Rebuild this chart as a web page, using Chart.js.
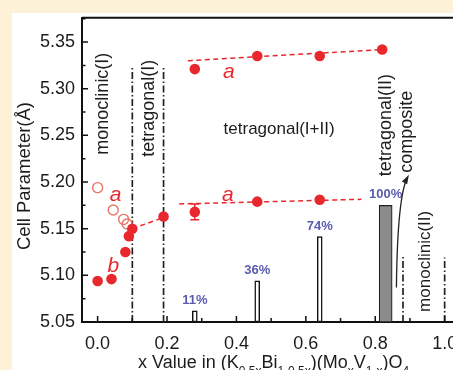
<!DOCTYPE html>
<html>
<head>
<meta charset="utf-8">
<script src="https://cdn.jsdelivr.net/npm/chart.js@4.4.1/dist/chart.umd.min.js"></script>
<style>
  html, body { margin: 0; padding: 0; overflow: hidden; width: 453px; height: 370px; background: #fdf1d8; }
  canvas { display: block; }
</style>
</head>
<body>
<canvas id="c" width="475" height="370" style="width:475px;height:370px"></canvas>
<script>
// ---- data ----
const xTickValues = [0.0, 0.2, 0.4, 0.6, 0.8, 1.0];
const yTickValues = [5.05, 5.10, 5.15, 5.20, 5.25, 5.30, 5.35];

// upper branch, lattice a (tetragonal II)
const upperX = [0.28, 0.46, 0.64, 0.82];
const upperA = [5.321, 5.335, 5.335, 5.342];
const upperFitX = [0.26, 0.82];
const upperFitY = [5.330, 5.342];

// lower branch, filled circles (a and b)
const lowerX = [0.00, 0.04, 0.08, 0.09, 0.10, 0.19, 0.28, 0.46, 0.64];
const lowerY = [5.094, 5.096, 5.125, 5.142, 5.150, 5.163, 5.168, 5.179, 5.181];
// open circles (monoclinic a)
const openX = [0.00, 0.045, 0.075, 0.085];
const openY = [5.194, 5.170, 5.160, 5.155];
// dashed guides on lower branch
const lowerSegX = [0.10, 0.19];
const lowerSegY = [5.150, 5.162];
const lowerFitX = [0.235, 0.76];
const lowerFitY = [5.1765, 5.1815];
// error bar
const errX = [0.28];
const errY = [5.168];
const errSize = [0.0085];

// phase boundaries (dash-dot)
const phaseX = [0.10, 0.19, 0.88, 1.00];
const phaseTop = [5.325, 5.325, 5.122, 5.119];

// phase fraction bars
const barX = [0.28, 0.46, 0.64];
const barTop = [5.062, 5.094, 5.1415];
const barLabels = ['11%', '36%', '74%'];
const fullBarX = [0.83];
const fullBarTop = [5.175];
const fullBarLabels = ['100%'];

const Y_MIN = 5.05, Y_MAX = 5.376, X_MIN = -0.045, X_MAX = 1.05;

// ---- styles ----
const RED = '#e8282c';
const OPEN_RED = '#ea7462';
const FONT = '"Liberation Sans", Arial, Helvetica, sans-serif';
const TXT = '#1c1c1c';

const pts = (xs, ys) => xs.map((x, i) => ({ x: x, y: ys[i] }));

const datasets = [];
// phase lines
phaseX.forEach((x, i) => {
  datasets.push({
    type: 'line', data: [{ x: x, y: Y_MIN }, { x: x, y: phaseTop[i] }],
    borderColor: '#222', borderWidth: 1.7, borderDash: [7, 2.5, 1.5, 2.5],
    pointRadius: 0, fill: false, order: 5
  });
});
// bars
datasets.push({
  type: 'bar', data: barX.map((x, i) => ({ x: x, y: [Y_MIN, barTop[i]] })),
  backgroundColor: '#ffffff', borderColor: '#111', borderWidth: 1.5,
  borderSkipped: false, barThickness: 5, grouped: false, order: 4
});
datasets.push({
  type: 'bar', data: fullBarX.map((x, i) => ({ x: x, y: [Y_MIN, fullBarTop[i]] })),
  backgroundColor: '#8b8b8b', borderColor: '#222', borderWidth: 1.2,
  borderSkipped: false, barThickness: 13, grouped: false, order: 4
});
// dashed guides
[[upperFitX, upperFitY], [lowerSegX, lowerSegY], [lowerFitX, lowerFitY]].forEach(p => {
  datasets.push({
    type: 'line', data: pts(p[0], p[1]), borderColor: RED, borderWidth: 1.5,
    borderDash: [5, 3.5], pointRadius: 0, fill: false, order: 3
  });
});
// open circles
datasets.push({
  type: 'scatter', data: pts(openX, openY), pointRadius: 5, pointBorderWidth: 1.4,
  pointBackgroundColor: 'rgba(255,255,255,0)', pointBorderColor: OPEN_RED, order: 2
});
// filled circles
datasets.push({
  type: 'scatter', data: pts(lowerX, lowerY), pointRadius: 5.3, pointBorderWidth: 0,
  pointBackgroundColor: RED, pointBorderColor: RED, order: 1
});
datasets.push({
  type: 'scatter', data: pts(upperX, upperA), pointRadius: 5.3, pointBorderWidth: 0,
  pointBackgroundColor: RED, pointBorderColor: RED, order: 1
});

// text annotations (data coordinates)
const notes = [
  { t: 'monoclinic(I)', x: 0.017, y: 5.284, rot: true, size: 18 },
  { t: 'tetragonal(I)', x: 0.147, y: 5.279, rot: true, size: 18 },
  { t: 'tetragonal(I+II)', x: 0.523, y: 5.256, rot: false, size: 17 },
  { t: 'tetragonal(II)', x: 0.830, y: 5.261, rot: true, size: 18 },
  { t: 'composite', x: 0.893, y: 5.254, rot: true, size: 18 },
  { t: 'monoclinic(II)', x: 0.945, y: 5.115, rot: true, size: 17 }
];
const redNotes = [
  { t: 'a', x: 0.052, y: 5.186 },
  { t: 'b', x: 0.045, y: 5.110 },
  { t: 'a', x: 0.375, y: 5.186 },
  { t: 'a', x: 0.378, y: 5.318 }
];

const decor = {
  id: 'decor',
  beforeDraw(chart) {
    const ctx = chart.ctx;
    ctx.save();
    ctx.fillStyle = '#fdf1d8';
    ctx.fillRect(0, 0, chart.width, chart.height);
    ctx.fillStyle = '#ffffff';
    ctx.fillRect(12, 13, chart.width - 12, chart.height - 13);
    ctx.restore();
  },
  afterDatasetsDraw(chart) {
    const ctx = chart.ctx, xs = chart.scales.x, ys = chart.scales.y;
    const ca = chart.chartArea;
    ctx.save();
    // error bar
    ctx.strokeStyle = RED; ctx.lineWidth = 1.5;
    errX.forEach((x, i) => {
      const px = xs.getPixelForValue(x);
      const y1 = ys.getPixelForValue(errY[i] + errSize[i]);
      const y2 = ys.getPixelForValue(errY[i] - errSize[i]);
      ctx.beginPath();
      ctx.moveTo(px, y1); ctx.lineTo(px, y2);
      ctx.moveTo(px - 4.5, y1); ctx.lineTo(px + 4.5, y1);
      ctx.moveTo(px - 4.5, y2); ctx.lineTo(px + 4.5, y2);
      ctx.stroke();
    });
    // bar labels
    ctx.fillStyle = '#5a5cb0';
    ctx.font = 'bold 13px ' + FONT;
    ctx.textAlign = 'center'; ctx.textBaseline = 'bottom';
    barX.forEach((x, i) => {
      ctx.fillText(barLabels[i], xs.getPixelForValue(x), ys.getPixelForValue(barTop[i]) - 4);
    });
    fullBarX.forEach((x, i) => {
      ctx.fillText(fullBarLabels[i], xs.getPixelForValue(x), ys.getPixelForValue(fullBarTop[i]) - 4);
    });
    // annotations
    ctx.fillStyle = TXT;
    ctx.textBaseline = 'middle'; ctx.textAlign = 'center';
    notes.forEach(n => {
      const px = xs.getPixelForValue(n.x), py = ys.getPixelForValue(n.y);
      ctx.font = n.size + 'px ' + FONT;
      ctx.save();
      ctx.translate(px, py);
      if (n.rot) ctx.rotate(-Math.PI / 2);
      ctx.fillText(n.t, 0, 0);
      ctx.restore();
    });
    ctx.fillStyle = RED;
    ctx.font = 'italic 21px ' + FONT;
    redNotes.forEach(n => {
      ctx.fillText(n.t, xs.getPixelForValue(n.x), ys.getPixelForValue(n.y));
    });
    // curved arrow to "composite"
    const ax0 = xs.getPixelForValue(0.861), ay0 = ys.getPixelForValue(5.087);
    const acx = xs.getPixelForValue(0.864), acy = ys.getPixelForValue(5.185);
    const ax1 = xs.getPixelForValue(0.893), ay1 = ys.getPixelForValue(5.205);
    ctx.strokeStyle = '#222'; ctx.lineWidth = 1.3;
    ctx.beginPath(); ctx.moveTo(ax0, ay0); ctx.quadraticCurveTo(acx, acy, ax1, ay1); ctx.stroke();
    const ang = Math.atan2(ay1 - acy, ax1 - acx);
    ctx.fillStyle = '#222';
    ctx.beginPath();
    ctx.moveTo(ax1 + Math.cos(ang) * 3, ay1 + Math.sin(ang) * 3);
    ctx.lineTo(ax1 + Math.cos(ang + 2.7) * 7, ay1 + Math.sin(ang + 2.7) * 7);
    ctx.lineTo(ax1 + Math.cos(ang - 2.7) * 7, ay1 + Math.sin(ang - 2.7) * 7);
    ctx.closePath(); ctx.fill();

    // inward ticks
    ctx.strokeStyle = '#111'; ctx.lineWidth = 1.5;
    ctx.beginPath();
    for (let v = 5.05; v <= 5.3751; v += 0.025) {
      const py = ys.getPixelForValue(v);
      const major = Math.abs(Math.round(v / 0.05) * 0.05 - v) < 1e-6;
      ctx.moveTo(ca.left, py); ctx.lineTo(ca.left + (major ? 6 : 3.5), py);
    }
    for (let v = 0; v <= 1.0001; v += 0.1) {
      const px = xs.getPixelForValue(v);
      const major = Math.abs(Math.round(v / 0.2) * 0.2 - v) < 1e-6;
      ctx.moveTo(px, ca.bottom); ctx.lineTo(px, ca.bottom - (major ? 6 : 4));
    }
    ctx.stroke();
    // top frame
    ctx.lineWidth = 2; ctx.strokeStyle = '#111';
    ctx.beginPath(); ctx.moveTo(ca.left, ca.top); ctx.lineTo(ca.right, ca.top); ctx.stroke();

    // axis titles
    ctx.fillStyle = TXT;
    ctx.font = '18.5px ' + FONT;
    ctx.save();
    ctx.translate(25, 176); ctx.rotate(-Math.PI / 2);
    ctx.textAlign = 'center'; ctx.textBaseline = 'middle';
    ctx.fillText('Cell Parameter(Å)', 0, 0);
    ctx.restore();
    const parts = [
      ['x Value in (K', 0], ['0.5x', 1], ['Bi', 0], ['1-0.5x', 1], [')(Mo', 0],
      ['x', 1], ['V', 0], ['1-x', 1], [')O', 0], ['4', 1]
    ];
    let cx = 138; const base = 368;
    ctx.textAlign = 'left'; ctx.textBaseline = 'alphabetic';
    parts.forEach(p => {
      ctx.font = (p[1] ? '12px ' : '18px ') + FONT;
      ctx.fillText(p[0], cx, base + (p[1] ? 7 : 0));
      cx += ctx.measureText(p[0]).width;
    });
    ctx.restore();
  }
};

new Chart(document.getElementById('c'), {
  type: 'scatter',
  data: { datasets: datasets },
  options: {
    responsive: false, animation: false, devicePixelRatio: 1,
    layout: { padding: { left: 0, top: 14, right: 13, bottom: 0 } },
    plugins: { legend: { display: false }, tooltip: { enabled: false } },
    scales: {
      x: {
        type: 'linear', min: X_MIN, max: X_MAX, offset: false,
        grid: { display: false, drawTicks: false },
        border: { display: true, color: '#111', width: 2 },
        afterBuildTicks: s => { s.ticks = xTickValues.map(v => ({ value: v })); },
        afterFit: s => { s.height = 48; },
        ticks: { color: TXT, font: { family: FONT, size: 18 }, padding: 11,
          callback: v => Number(v).toFixed(1), maxRotation: 0, autoSkip: false }
      },
      y: {
        type: 'linear', min: Y_MIN, max: Y_MAX,
        grid: { display: false, drawTicks: false },
        border: { display: true, color: '#111', width: 2 },
        afterBuildTicks: s => { s.ticks = yTickValues.map(v => ({ value: v })); },
        afterFit: s => { s.width = 82; },
        ticks: { color: TXT, font: { family: FONT, size: 18 }, padding: 7,
          callback: v => Number(v).toFixed(2), autoSkip: false }
      }
    }
  },
  plugins: [decor]
});
</script>
</body>
</html>
